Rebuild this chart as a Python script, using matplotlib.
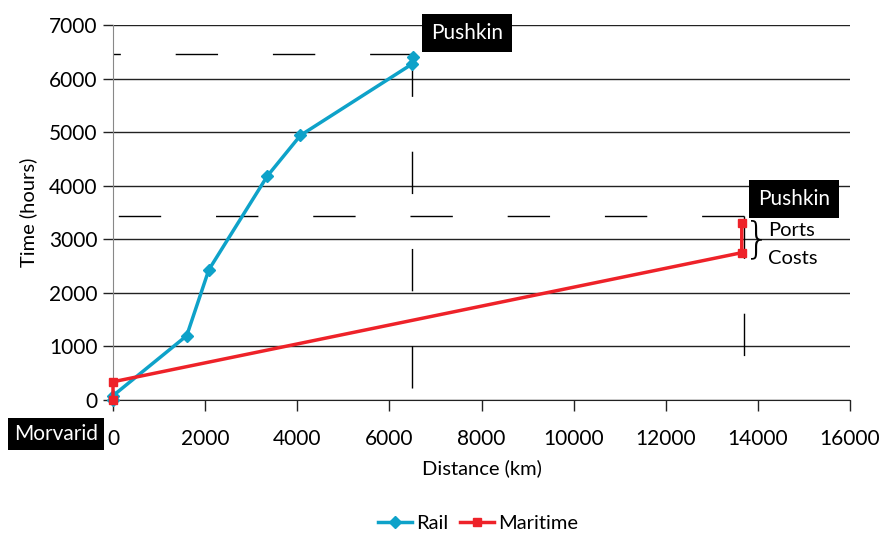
import matplotlib
matplotlib.use("Agg")
import matplotlib.pyplot as plt

plt.rcParams['font.family'] = ['Lato', 'DejaVu Sans']

# Route data: cumulative distance (km) vs cumulative time (hours)
rail_km = [0, 0, 1600, 2080, 3350, 4070, 6490, 6510]
rail_hours = [0, 80, 1200, 2430, 4180, 4940, 6270, 6400]

maritime_km = [0, 0, 13650, 13650]
maritime_hours = [0, 340, 2750, 3300]

# Reference markers for the destination (dashed guides)
rail_end_km = 6500
rail_end_hours = 6450
maritime_end_km = 13700
maritime_end_hours = 3430

x_ticks = [0, 2000, 4000, 6000, 8000, 10000, 12000, 14000, 16000]
y_ticks = [0, 1000, 2000, 3000, 4000, 5000, 6000, 7000]

W, H = 889, 536
fig = plt.figure(figsize=(W / 100, H / 100), dpi=100)
ax = fig.add_axes([113 / W, 1 - 400 / H, (850 - 113) / W, (400 - 25) / H])

ax.set_xlim(0, 16000)
ax.set_ylim(0, 7000)
ax.set_xticks(x_ticks)
ax.set_yticks(y_ticks)

ax.grid(axis='y', color='#222222', lw=1.0)
ax.set_axisbelow(True)
for s in ['top', 'right']:
    ax.spines[s].set_visible(False)
ax.spines['left'].set_color('#888888')
ax.spines['bottom'].set_color('#222222')
ax.tick_params(axis='y', length=7, width=1, color='#222222', labelsize=15, pad=4)
ax.tick_params(axis='x', length=8, width=1, color='#222222', labelsize=15, pad=13)

dash = (30.5, 39.5)
# Horizontal guides, dash pattern anchored at the destination end
ax.plot([rail_end_km, 0], [rail_end_hours] * 2, color='black', lw=1,
        dashes=dash, dash_capstyle='butt', clip_on=False)
ax.plot([maritime_end_km, 0], [maritime_end_hours] * 2, color='black', lw=1,
        dashes=dash, dash_capstyle='butt', clip_on=False)
# Vertical guides
ax.plot([rail_end_km] * 2, [rail_end_hours, 0], color='black', lw=1,
        dashes=dash, dash_capstyle='butt')
ax.plot([maritime_end_km] * 2, [maritime_end_hours, 0], color='black', lw=1,
        dashes=dash, dash_capstyle='butt')

rail_color = '#0EA2C9'
sea_color = '#EE2229'
ax.plot(rail_km, rail_hours, color=rail_color, lw=2.5, marker='D',
        markersize=6.5, label='Rail', clip_on=False, zorder=4)
ax.plot(maritime_km, maritime_hours, color=sea_color, lw=2.5, marker='s',
        markersize=6, label='Maritime', clip_on=False, zorder=5)

ax.set_xlabel('Distance (km)', fontsize=14.5, labelpad=7)
ax.set_ylabel('Time (hours)', fontsize=14.5, labelpad=9)


def fx(px):
    return px / W


def fy(py):
    return 1 - py / H


box = dict(facecolor='black', edgecolor='none', boxstyle='square,pad=0.42')
fig.text(fx(467), fy(33), 'Pushkin', color='white', fontsize=15,
         ha='center', va='center', bbox=box)
fig.text(fx(794), fy(199), 'Pushkin', color='white', fontsize=15,
         ha='center', va='center', bbox=box)
fig.text(fx(56), fy(434), 'Morvarid', color='white', fontsize=15,
         ha='center', va='center',
         bbox=dict(facecolor='black', edgecolor='none', boxstyle='square,pad=0.3'))

fig.text(fx(757), fy(240), '}', fontsize=30, ha='center', va='center',
         family='DejaVu Sans', fontweight='light')
fig.text(fx(768), fy(231), 'Ports', fontsize=14.5, ha='left', va='center')
fig.text(fx(768), fy(259), 'Costs', fontsize=14.5, ha='left', va='center')

fig.legend(loc='center', bbox_to_anchor=(fx(478), fy(523)), ncol=2,
           frameon=False, fontsize=14.5, handlelength=1.7, handletextpad=0.2,
           columnspacing=0.6)

fig.savefig('out.png', dpi=100)
